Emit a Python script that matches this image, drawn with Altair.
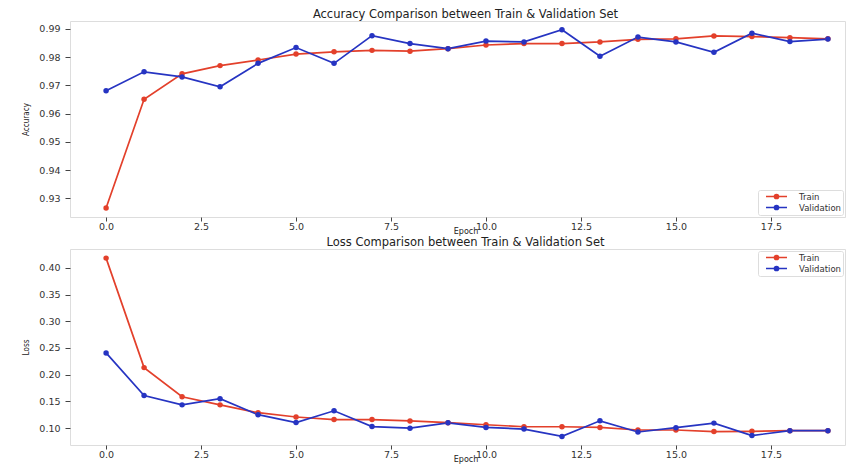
import altair as alt
import pandas as pd

epochs = list(range(20))
series_names = ["Train", "Validation"]

acc_train = [0.9266, 0.9651, 0.9741, 0.9770, 0.9790, 0.9811, 0.9819, 0.9824, 0.9821, 0.9830,
             0.9843, 0.9848, 0.9848, 0.9854, 0.9863, 0.9865, 0.9875, 0.9873, 0.9869, 0.9865]
acc_val = [0.9681, 0.9748, 0.9730, 0.9695, 0.9778, 0.9834, 0.9778, 0.9876, 0.9848, 0.9830,
           0.9857, 0.9854, 0.9897, 0.9803, 0.9871, 0.9854, 0.9817, 0.9885, 0.9855, 0.9864]
loss_train = [0.4184, 0.2132, 0.1587, 0.1434, 0.1287, 0.1207, 0.1158, 0.1158, 0.1133, 0.1100,
              0.1061, 0.1024, 0.1024, 0.1012, 0.0963, 0.0963, 0.0933, 0.0939, 0.0951, 0.0951]
loss_val = [0.2408, 0.1608, 0.1434, 0.1550, 0.1250, 0.1102, 0.1323, 0.1028, 0.0997, 0.1098,
            0.1012, 0.0981, 0.0843, 0.1135, 0.0926, 0.1006, 0.1092, 0.0859, 0.0951, 0.0951]

x_ticks = [0.0, 2.5, 5.0, 7.5, 10.0, 12.5, 15.0, 17.5]
acc_ticks = [0.93, 0.94, 0.95, 0.96, 0.97, 0.98, 0.99]
loss_ticks = [0.10, 0.15, 0.20, 0.25, 0.30, 0.35, 0.40]

RED = "#e3402b"
BLUE = "#2634c2"
FONT = "DejaVu Sans"
W = 775

legend_shape = "M-3,0L3,0M-0.6,0A0.6,0.6 0 1,0 0.6,0A0.6,0.6 0 1,0 -0.6,0Z"


def long_df(a, b):
    return pd.DataFrame({
        "epoch": epochs + epochs,
        "value": a + b,
        "series": [series_names[0]] * len(a) + [series_names[1]] * len(b),
    })


def panel(df, title, ytitle, ydomain, yticks, legend_orient, height):
    x = alt.X("epoch:Q", title="Epoch",
              scale=alt.Scale(domain=[-0.95, 19.45], nice=False, zero=False),
              axis=alt.Axis(values=x_ticks, format=".1f", grid=False, domain=False,
                            tickSize=4, labelPadding=0, labelFontSize=9.5,
                            labelColor="#333", titleFontSize=8, titleFontWeight="normal",
                            titlePadding=-3, titleX=W / 2 + 8, titleColor="#222",
                            tickColor="#444", labelFont=FONT, titleFont=FONT))
    y = alt.Y("value:Q", title=ytitle,
              scale=alt.Scale(domain=ydomain, nice=False, zero=False),
              axis=alt.Axis(values=yticks, format=".2f", grid=False, domain=False,
                            tickSize=5, labelPadding=5, labelFontSize=9.5,
                            labelColor="#333", titleFontSize=8, titleFontWeight="normal",
                            titlePadding=8, titleColor="#222", tickColor="#444",
                            labelFont=FONT, titleFont="DejaVu Sans Condensed"))
    color = alt.Color("series:N",
                      scale=alt.Scale(domain=series_names, range=[RED, BLUE]),
                      legend=alt.Legend(title=None, orient=legend_orient, offset=2,
                                        symbolType=legend_shape, symbolSize=49,
                                        symbolOffset=12, labelOffset=18,
                                        symbolStrokeWidth=1.5, labelFontSize=8.5,
                                        labelFont=FONT, labelColor="#333",
                                        rowPadding=0, padding=2,
                                        strokeColor="#dddddd", fillColor="white",
                                        cornerRadius=2))
    base = alt.Chart(df).encode(x=x, y=y, color=color)
    line = base.mark_line(strokeWidth=1.7)
    pts = base.mark_point(filled=True, size=30, opacity=1)
    return alt.layer(line, pts).properties(
        width=W, height=height,
        title=alt.TitleParams(title, fontSize=11.5, font=FONT, fontWeight="normal",
                              color="#222", offset=1, dx=8, anchor="middle"))


top = panel(long_df(acc_train, acc_val),
            "Accuracy Comparison between Train & Validation Set",
            "Accuracy", [0.9234, 0.9928], acc_ticks, "bottom-right", 196)
bottom = panel(long_df(loss_train, loss_val),
               "Loss Comparison between Train & Validation Set",
               "Loss", [0.0682, 0.4355], loss_ticks, "top-right", 196)

chart = alt.vconcat(top, bottom, spacing=0).resolve_scale(
    color="independent").resolve_legend(color="independent").properties(
    padding={"left": 14, "top": 0, "right": 0, "bottom": 0}
).configure_view(stroke="#444", strokeWidth=1).configure(background="white")

chart.save("out.html", embed_options={"renderer": "svg", "actions": False})
